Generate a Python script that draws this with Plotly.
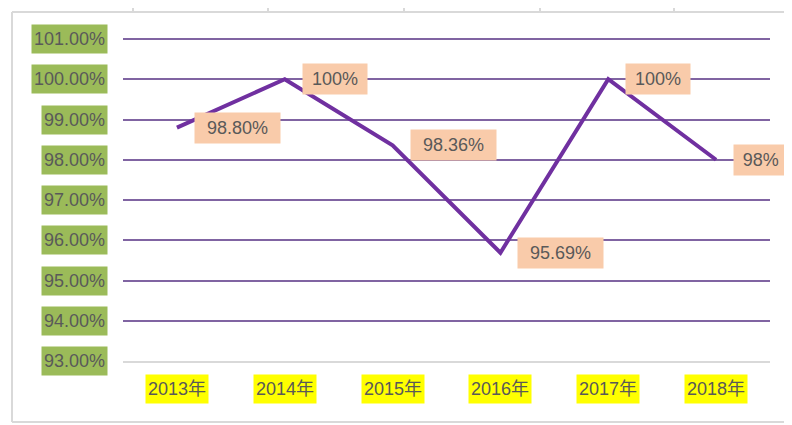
import plotly.graph_objects as go

years = ["2013年", "2014年", "2015年", "2016年", "2017年", "2018年"]
values = [98.80, 100.00, 98.36, 95.69, 100.00, 98.00]
point_labels = ["98.80%", "100%", "98.36%", "95.69%", "100%", "98%"]
y_ticks = [93, 94, 95, 96, 97, 98, 99, 100, 101]
y_tick_labels = ["93.00%", "94.00%", "95.00%", "96.00%", "97.00%", "98.00%", "99.00%", "100.00%", "101.00%"]

FONT = "Liberation Sans, Noto Sans CJK SC, sans-serif"
TXT = "#595959"

fig = go.Figure()
fig.add_trace(go.Scatter(
    x=list(range(len(years))), y=values, mode="lines",
    line=dict(color="#7030A0", width=4), hoverinfo="skip", showlegend=False,
))

annotations = []
for i, (v, t) in enumerate(zip(values, point_labels)):
    annotations.append(dict(
        x=i, y=v, xref="x", yref="y", text=t, showarrow=False,
        xanchor="left", yanchor="middle", xshift=17,
        bgcolor="#F9CBAA", borderpad=5, width=10.5 * len(t) + 12, height=20,
        font=dict(family=FONT, size=18, color=TXT), align="center",
    ))
for v, t in zip(y_ticks, y_tick_labels):
    annotations.append(dict(
        x=0, y=v, xref="paper", yref="y", text=t, showarrow=False,
        xanchor="right", yanchor="middle", xshift=-15, height=24,
        bgcolor="#9BBB59", borderpad=2,
        font=dict(family=FONT, size=18, color=TXT),
    ))
for i, t in enumerate(years):
    annotations.append(dict(
        x=i, y=0, xref="x", yref="paper", text=t, showarrow=False,
        xanchor="center", yanchor="middle", yshift=-28, height=24,
        bgcolor="#FFFF00", borderpad=2,
        font=dict(family=FONT, size=18, color=TXT),
    ))

# page body has an 8px margin, so figure coords = screen coords - 8
# plot area on screen: x 123..770, y 37..361
def px(xs):
    return (xs - 123) / 647
def py(ys):
    return (361 - ys) / 324

shapes = [
    dict(type="line", xref="paper", yref="paper", x0=px(12), x1=px(800), y0=py(12), y1=py(12),
         line=dict(color="#D9D9D9", width=2)),
    dict(type="line", xref="paper", yref="paper", x0=px(12), x1=px(12), y0=py(12), y1=py(422),
         line=dict(color="#D9D9D9", width=2)),
    dict(type="line", xref="paper", yref="paper", x0=px(12), x1=px(800), y0=py(422), y1=py(422),
         line=dict(color="#D9D9D9", width=2)),
]
for xs in [133, 268, 404, 540, 674]:
    shapes.append(dict(type="line", xref="paper", yref="paper", x0=px(xs), x1=px(xs),
                       y0=py(0), y1=py(12), line=dict(color="#D9D9D9", width=2)))

fig.update_layout(
    width=792, height=425,
    margin=dict(l=115, r=30, t=29, b=72),
    paper_bgcolor="white", plot_bgcolor="white",
    xaxis=dict(range=[-0.5, 5.5], showgrid=False, showticklabels=False, ticks="",
               showline=True, linecolor="#D9D9D9", linewidth=2, zeroline=False, fixedrange=True),
    yaxis=dict(range=[93, 101.05], tickvals=y_ticks[1:], showgrid=True, gridcolor="#8064A2",
               gridwidth=1.5, showticklabels=False, ticks="", zeroline=False, showline=False,
               fixedrange=True),
    annotations=annotations, shapes=shapes, showlegend=False,
)
fig.write_html("out.html")
